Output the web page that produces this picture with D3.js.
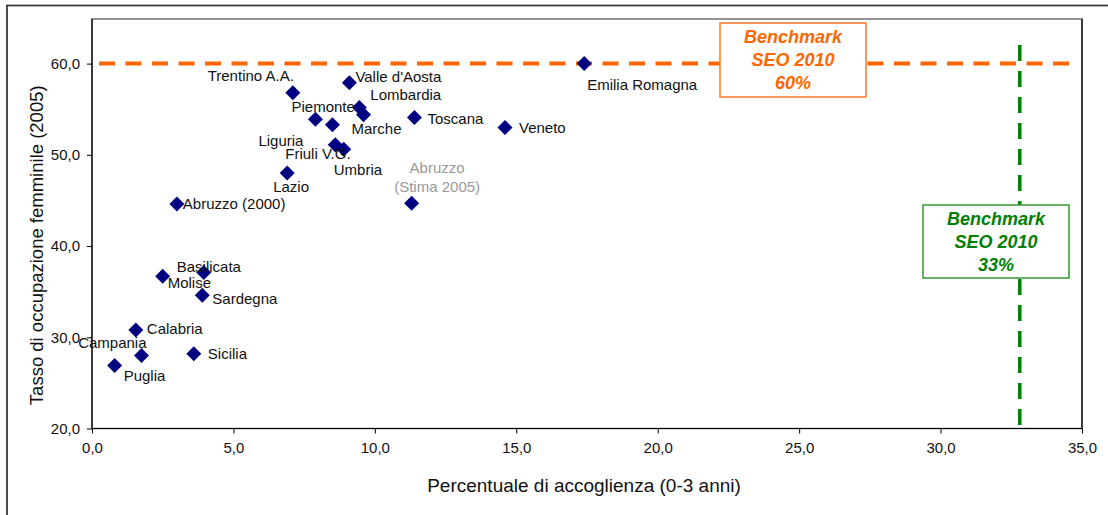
<!DOCTYPE html>
<html>
<head>
<meta charset="utf-8">
<script src="https://cdn.jsdelivr.net/npm/d3@7"></script>
<style>
  html, body { margin: 0; padding: 0; background: #fff; }
  svg { display: block; font-family: Arial, "Liberation Sans", sans-serif; }
</style>
</head>
<body>
<svg id="chart" width="1108" height="515"></svg>
<script>
// ---- Data ----
const regions = ["Emilia Romagna","Veneto","Toscana","Valle d'Aosta","Trentino A.A.","Lombardia","Marche","Piemonte","Liguria","Friuli V.G.","Umbria","Lazio","Abruzzo (2000)","Basilicata","Molise","Sardegna","Calabria","Campania","Sicilia","Puglia"];
const accoglienza = [17.4, 14.6, 11.4, 9.1, 7.1, 9.45, 9.6, 7.9, 8.5, 8.6, 8.9, 6.9, 3.0, 3.95, 2.5, 3.9, 1.55, 1.75, 3.6, 0.8];
const occupazione = [60.0, 53.0, 54.1, 57.9, 56.8, 55.2, 54.4, 53.9, 53.3, 51.1, 50.6, 48.0, 44.6, 37.1, 36.7, 34.6, 30.8, 28.0, 28.2, 26.9];
const stimaLabel = ["Abruzzo", "(Stima 2005)"];
const stimaAcc = [11.3];
const stimaOcc = [44.7];
const benchmarkOcc = 60;   // SEO 2010 female employment
const benchmarkAcc = 32.8; // SEO 2010 childcare
const benchmarkOccText = ["Benchmark", "SEO 2010", "60%"];
const benchmarkAccText = ["Benchmark", "SEO 2010", "33%"];
const xTicks = [0, 5, 10, 15, 20, 25, 30, 35];
const yTicks = [20, 30, 40, 50, 60];
const xTitle = "Percentuale di accoglienza (0-3 anni)";
const yTitle = "Tasso di occupazione femminile (2005)";

// ---- Layout (label offsets in px: dx, dy, anchor) ----
const labelLayout = {
  "Emilia Romagna": [3, 21, "start"],
  "Veneto": [14, 0, "start"],
  "Toscana": [13, 1, "start"],
  "Valle d'Aosta": [6, -6, "start"],
  "Trentino A.A.": [1, -17, "end"],
  "Lombardia": [11, -13, "start"],
  "Marche": [-12, 14, "start"],
  "Piemonte": [-24, -13, "start"],
  "Liguria": [-29, 16, "end"],
  "Friuli V.G.": [-50, 9, "start"],
  "Umbria": [-10, 20, "start"],
  "Lazio": [-14, 14, "start"],
  "Abruzzo (2000)": [6, 0, "start"],
  "Basilicata": [-27, -6, "start"],
  "Molise": [5, 7, "start"],
  "Sardegna": [10, 3, "start"],
  "Calabria": [11, -1, "start"],
  "Campania": [5, -13, "end"],
  "Sicilia": [14, 0, "start"],
  "Puglia": [9, 10, "start"]
};

const svg = d3.select("#chart");
const pLeft = 92, pRight = 1082, pTop = 18, pBottom = 428.5;

const x = d3.scaleLinear().domain([0, 35]).range([pLeft, pRight]);
const y = d3.scaleLinear().domain([20, 65]).range([pBottom, pTop]);
const loc = d3.formatLocale({decimal: ",", thousands: ".", grouping: [3], currency: ["", "€"]});
const fmt = loc.format(".1f");

// outer frame
svg.append("rect").attr("x", 7).attr("y", 5.5).attr("width", 1120).attr("height", 530)
  .attr("fill", "none").attr("stroke", "#3a3a3a").attr("stroke-width", 1.8);

// plot area frame
svg.append("rect").attr("x", pLeft).attr("y", pTop + 1).attr("width", pRight - pLeft).attr("height", pBottom - pTop - 1)
  .attr("fill", "#fff").attr("stroke", "#707070").attr("stroke-width", 1.5);
svg.append("line").attr("x1", pRight).attr("x2", pRight).attr("y1", pTop + 1).attr("y2", pBottom)
  .attr("stroke", "#000").attr("stroke-width", 1.2);

// axes
const xAxis = svg.append("g").attr("transform", `translate(0,${pBottom})`)
  .call(d3.axisBottom(x).tickValues(xTicks).tickFormat(fmt).tickSize(5).tickPadding(9));
const yAxis = svg.append("g").attr("transform", `translate(${pLeft},0)`)
  .call(d3.axisLeft(y).tickValues(yTicks).tickFormat(fmt).tickSize(5).tickPadding(7));
[xAxis, yAxis].forEach(g => {
  g.select(".domain").attr("stroke", "#000").attr("stroke-width", 1.2);
  g.selectAll(".tick line").attr("stroke", "#000");
  g.selectAll(".tick text").attr("font-size", 15).attr("fill", "#111")
    .attr("font-family", "Arial, 'Liberation Sans', sans-serif");
});
xAxis.select(".domain").attr("d", `M${pLeft},0H${pRight}`);
yAxis.select(".domain").attr("d", `M0,${pBottom}V${pTop + 1}`);

// axis titles
svg.append("text").attr("x", (pLeft + pRight) / 2 - 3).attr("y", 485).attr("dy", "0.35em")
  .attr("text-anchor", "middle").attr("font-size", 19).attr("fill", "#111").text(xTitle);
svg.append("text").attr("transform", `translate(37,${(pTop + pBottom) / 2 + 22}) rotate(-90)`).attr("dy", "0.35em")
  .attr("text-anchor", "middle").attr("font-size", 18.5).attr("fill", "#111").text(yTitle);

// benchmark lines
svg.append("line")
  .attr("x1", x(0) + 7).attr("x2", x(35) - 5)
  .attr("y1", y(benchmarkOcc)).attr("y2", y(benchmarkOcc))
  .attr("stroke", "#FF6600").attr("stroke-width", 4).attr("stroke-dasharray", "16,10.5");
svg.append("line")
  .attr("x1", x(benchmarkAcc)).attr("x2", x(benchmarkAcc))
  .attr("y1", y(65) + 27).attr("y2", y(20) - 2.5)
  .attr("stroke", "#008000").attr("stroke-width", 3.5).attr("stroke-dasharray", "16,10");

// benchmark boxes
function box(cx, y0, w, h, stroke, color, lines) {
  svg.append("rect").attr("x", cx - w / 2).attr("y", y0).attr("width", w).attr("height", h)
    .attr("fill", "#fff").attr("stroke", stroke).attr("stroke-width", 1.5);
  lines.forEach((t, i) => {
    svg.append("text").attr("x", cx).attr("y", y0 + 14 + i * 23).attr("dy", "0.35em")
      .attr("text-anchor", "middle").attr("font-size", 18).attr("font-weight", "bold")
      .attr("font-style", "italic").attr("fill", color).text(t);
  });
}
box(793, 23, 146, 74, "#FF7722", "#FF6600", benchmarkOccText);
box(996, 205, 146, 73, "#339933", "#008000", benchmarkAccText);

// points
const diamond = "M0,-7.5L7.5,0L0,7.5L-7.5,0Z";
const pts = regions.map((r, i) => ({name: r, a: accoglienza[i], o: occupazione[i]}));
svg.append("g").selectAll("path").data(pts).join("path")
  .attr("d", diamond).attr("fill", "#000080")
  .attr("transform", d => `translate(${x(d.a)},${y(d.o)})`);
svg.append("g").selectAll("path").data(stimaAcc.map((a, i) => ({a, o: stimaOcc[i]}))).join("path")
  .attr("d", diamond).attr("fill", "#000080")
  .attr("transform", d => `translate(${x(d.a)},${y(d.o)})`);

// labels
svg.append("g").selectAll("text").data(pts).join("text")
  .attr("x", d => x(d.a) + labelLayout[d.name][0])
  .attr("y", d => y(d.o) + labelLayout[d.name][1])
  .attr("dy", "0.35em")
  .attr("text-anchor", d => labelLayout[d.name][2])
  .attr("font-size", 15).attr("fill", "#111").text(d => d.name);
stimaLabel.forEach((t, i) => {
  svg.append("text").attr("x", x(stimaAcc[0]) + 25.5).attr("y", y(stimaOcc[0]) - 35 + i * 19)
    .attr("dy", "0.35em").attr("text-anchor", "middle").attr("font-size", 15)
    .attr("fill", "#999").text(t);
});
</script>
</body>
</html>
